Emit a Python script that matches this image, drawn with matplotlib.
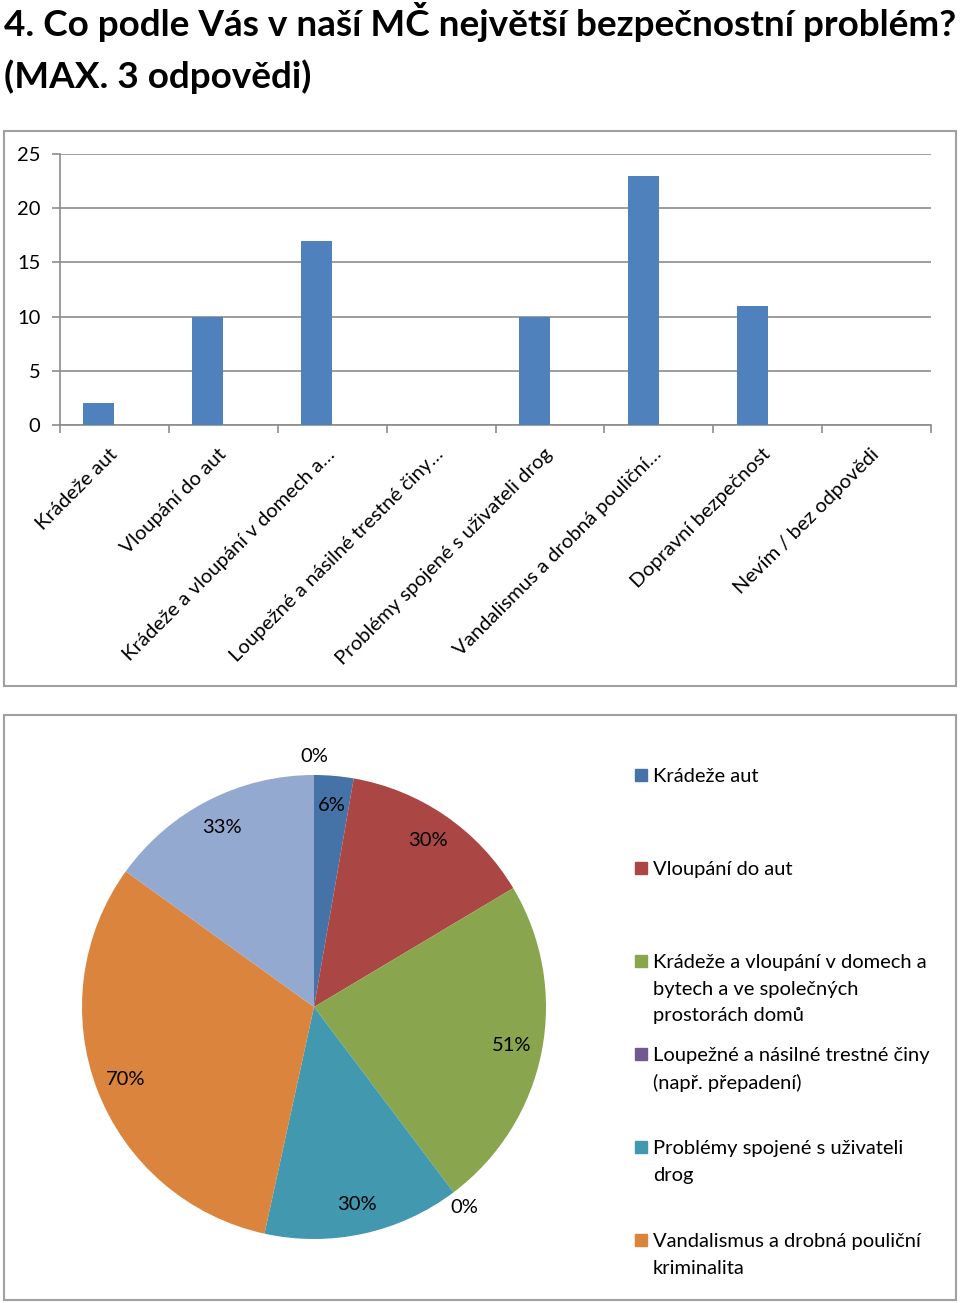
import matplotlib
matplotlib.use("Agg")
import matplotlib.pyplot as plt
from matplotlib.patches import Rectangle
import numpy as np

plt.rcParams['font.family'] = ['Lato', 'DejaVu Sans']

# data
kategorie = ["Krádeže aut", "Vloupání do aut", "Krádeže a vloupání v domech a…",
             "Loupežné a násilné trestné činy…", "Problémy spojené s uživateli drog",
             "Vandalismus a drobná pouliční…", "Dopravní bezpečnost", "Nevím / bez odpovědi"]
legenda = ["Krádeže aut", "Vloupání do aut",
           "Krádeže a vloupání v domech a\nbytech a ve společných\nprostorách domů",
           "Loupežné a násilné trestné činy\n(např. přepadení)",
           "Problémy spojené s uživateli\ndrog",
           "Vandalismus a drobná pouliční\nkriminalita"]
pocty = [2, 10, 17, 0, 10, 23, 11, 0]
procenta = [6, 30, 51, 0, 30, 70, 33, 0]
y_ticks = [0, 5, 10, 15, 20, 25]

bar_color = "#4F81BD"
pie_colors = ["#4572A7", "#AA4643", "#89A54E", "#71588F", "#4198AF", "#DB843D", "#93A9CF", "#A47D7C"]
grid_col = "#8C8C8C"

W, H = 960, 1303
fig = plt.figure(figsize=(W / 100, H / 100), dpi=100)


def fx(px):
    return px / W


def fy(py):
    return 1 - py / H


# title
fig.text(fx(4), fy(22), "4. Co podle Vás v naší MČ největší bezpečnostní problém?",
         fontsize=26.6, fontweight='bold', va='center', ha='left')
fig.text(fx(4), fy(77), "(MAX. 3 odpovědi)", fontsize=26.6, fontweight='bold', va='center', ha='left')

# frames
for (x0, y0, x1, y1) in [(4, 131, 956, 686), (4, 715, 956, 1300)]:
    fig.patches.append(Rectangle((fx(x0), fy(y1)), fx(x1 - x0), (y1 - y0) / H,
                                 transform=fig.transFigure, fill=False,
                                 edgecolor="#A0A0A0", linewidth=1.5))

# bar chart
ax = fig.add_axes([fx(60), fy(425), fx(931 - 60), (425 - 154) / H])
sirka = 1 / 3.5
x = list(range(len(pocty)))
ax.bar([i - sirka / 2 for i in x], pocty, width=sirka, color=bar_color, zorder=3)
ax.set_xlim(-0.5, len(pocty) - 0.5)
ax.set_ylim(0, 25)
ax.set_yticks(y_ticks)
ax.yaxis.grid(True, color=grid_col, linewidth=1.2, zorder=0)
for s in ['top', 'right']:
    ax.spines[s].set_visible(False)
for s in ['left', 'bottom']:
    ax.spines[s].set_color(grid_col)
    ax.spines[s].set_linewidth(1.2)
ax.set_xticks(x)
ax.set_xticks([i - 0.5 for i in range(len(pocty) + 1)], minor=True)
ax.tick_params(axis='x', which='major', length=0, pad=19)
ax.tick_params(axis='x', which='minor', length=6, color=grid_col, width=1.2)
ax.tick_params(axis='y', length=6, color=grid_col, width=1.2, labelsize=14.5, pad=8)
ax.set_xticklabels(kategorie, rotation=45, ha='right', va='center',
                   rotation_mode='anchor', fontsize=14.6)

# pie chart
r = 232
cx, cy = 314, 1007
pax = fig.add_axes([fx(cx - r), fy(cy + r), fx(2 * r), 2 * r / H])
wedges, _ = pax.pie(pocty, colors=pie_colors, startangle=90, counterclock=False,
                    radius=1, wedgeprops=dict(linewidth=0))
pax.set_xlim(-1, 1)
pax.set_ylim(-1, 1)
pax.set_aspect('equal')
pax.axis('off')

for w, p in zip(wedges, procenta):
    mid = np.deg2rad((w.theta1 + w.theta2) / 2)
    d = 0.87 if p > 0 else 1.08
    pax.text(d * np.cos(mid), d * np.sin(mid), f"{p}%", ha='center', va='center', fontsize=14.5)

# legend
for i, lab in enumerate(legenda):
    ytop = 775 + 93 * i
    fig.patches.append(Rectangle((fx(635), fy(ytop + 6)), fx(12), 12 / H,
                                 transform=fig.transFigure, color=pie_colors[i]))
    fig.text(fx(653), fy(ytop - 7), lab, fontsize=14.5, va='top', ha='left',
             linespacing=1.68)

fig.savefig("out.png", dpi=100)
